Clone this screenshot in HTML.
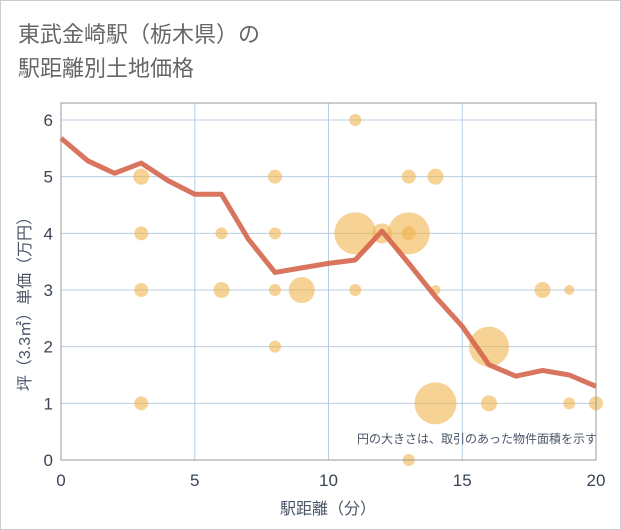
<!DOCTYPE html>
<html><head><meta charset="utf-8"><style>
body{margin:0;background:#fff;}
svg{display:block;font-family:"Liberation Sans","Noto Sans CJK JP",sans-serif;}
</style></head><body>
<svg width="621" height="530">
<rect x="0.5" y="0.5" width="620" height="529" fill="#fff" stroke="#ccc"/>
<text x="18" y="42" font-size="22" fill="#666">東武金崎駅（栃木県）の</text>
<text x="18" y="76" font-size="22" fill="#666">駅距離別土地価格</text>
<g id="grid"></g>
<g id="bubbles"></g>
<g id="line"></g>
<rect x="61" y="103" width="535" height="357" fill="none" stroke="#999"/>
<g id="ticks"></g>
<text x="597" y="443" font-size="12" fill="#4a5568" text-anchor="end">円の大きさは、取引のあった物件面積を示す</text>
<text x="328" y="514" font-size="16" fill="#4a5568" text-anchor="middle">駅距離（分）</text>
<text transform="translate(30,300) rotate(-90)" font-size="16" fill="#4a5568" text-anchor="middle">坪（3.3㎡）単価（万円）</text>
</svg>
<script>
const xTicks=[0,5,10,15,20];
const yTicks=[0,1,2,3,4,5,6];
const lineX=[0,1,2,3,4,5,6,7,8,9,10,11,12,13,14,15,16,17,18,19,20];
const lineY=[5.68,5.28,5.06,5.24,4.93,4.69,4.69,3.9,3.31,3.39,3.47,3.53,4.04,3.47,2.88,2.36,1.68,1.48,1.58,1.5,1.3];
const bubX=[11,3,8,13,14,3,6,8,11,12,13,13,3,6,8,9,11,14,18,19,8,16,3,14,16,19,20,13];
const bubY=[6,5,5,5,5,4,4,4,4,4,4,4,3,3,3,3,3,3,3,3,2,2,1,1,1,1,1,0];
const bubR=[6,8,7,7,8,7,6,6,21,10,21,7,7,8,6,13,6,5,8,5,6,20,7,21,8,6,7,6];
const NS='http://www.w3.org/2000/svg';
function sx(v){return 61+v*(535/20);}
function sy(v){return 460-v*(340/6);}
function mk(t,a,p){const e=document.createElementNS(NS,t);for(const k in a)e.setAttribute(k,a[k]);p.appendChild(e);return e;}
const grid=document.getElementById('grid'),ticks=document.getElementById('ticks');
xTicks.forEach(v=>{
 const l=mk('line',{x1:sx(v),x2:sx(v),y1:103,y2:460,stroke:'#b8cde0'},grid);
 
 
 const t=mk('text',{x:sx(v),y:486,'font-size':17,fill:'#3a4456','text-anchor':'middle'},ticks);
 t.textContent=v;
 
 
});
yTicks.forEach(v=>{
 const l=mk('line',{x1:61,x2:596,y1:sy(v),y2:sy(v),stroke:'#b8cde0'},grid);
 
 
 const t=mk('text',{x:53,y:sy(v)+6,'font-size':17,fill:'#3a4456','text-anchor':'end'},ticks);
 t.textContent=v;
 
 
});
const bg=document.getElementById('bubbles');
bubX.forEach((x,i)=>{
 const c=mk('circle',{cx:sx(x),cy:sy(bubY[i]),r:bubR[i],fill:'#f0b44e','fill-opacity':0.6},bg);
 
 
});
const pts=lineX.map((x,i)=>sx(x)+','+sy(lineY[i])).join(' ');
const pl=mk('polyline',{points:pts,fill:'none',stroke:'#d5654d','stroke-width':5,'stroke-opacity':0.9,'stroke-linejoin':'round'},document.getElementById('line'));


</script>
</body></html>
